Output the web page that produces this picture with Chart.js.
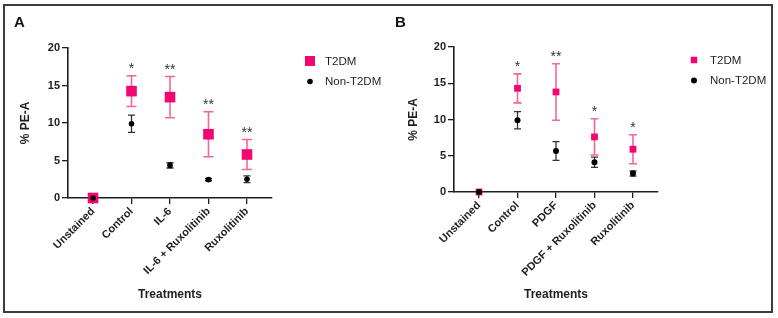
<!DOCTYPE html>
<html>
<head>
<meta charset="utf-8">
<script src="https://cdn.jsdelivr.net/npm/chart.js@4.4.1/dist/chart.umd.min.js"></script>
<style>
  html, body { margin: 0; padding: 0; background: #fff; }
  #wrap { position: relative; width: 778px; height: 318px; overflow: hidden; }
  #frame { position: absolute; left: 3px; top: 4px; width: 770px; height: 309px;
           box-sizing: border-box; border: 2px solid #3c3c3c; }
  canvas { position: absolute; top: 0; }
  #cA { left: 0; }
  #cB { left: 388px; }
  .tag { position: absolute; top: 13px; font: bold 15px 'Liberation Sans', Arial, sans-serif; color: #111; }
</style>
</head>
<body>
<div id="wrap">
  <div id="frame"></div>
  <canvas id="cA" width="388" height="318"></canvas>
  <canvas id="cB" width="390" height="318"></canvas>
  <div class="tag" style="left:14px">A</div>
  <div class="tag" style="left:395px">B</div>
</div>
<script>
// --- panel A data ---
const catsA = ['Unstained', 'Control', 'IL-6', 'IL-6 + Ruxolitinib', 'Ruxolitinib'];
const t2dmA = [0, 14.25, 13.45, 8.5, 5.8];
const t2dmErrA = [0, 2.05, 2.75, 3.0, 2.0];
const nonA = [0, 9.9, 4.35, 2.45, 2.5];
const nonErrA = [0, 1.15, 0.35, 0.15, 0.45];
const sigA = ['', '*', '**', '**', '**'];

// --- panel B data ---
const catsB = ['Unstained', 'Control', 'PDGF', 'PDGF + Ruxolitinib', 'Ruxolitinib'];
const t2dmB = [0, 14.3, 13.8, 7.6, 5.9];
const t2dmErrB = [0, 2.0, 3.9, 2.5, 2.0];
const nonB = [0, 9.9, 5.65, 4.1, 2.55];
const nonErrB = [0, 1.2, 1.3, 0.7, 0.35];
const sigB = ['', '*', '**', '*', '*'];

const yTicks = [0, 5, 10, 15, 20];
const seriesNames = ['T2DM', 'Non-T2DM'];

const PINK = '#f2066f';
const PINK_ERR = '#f4669c';
const INK = '#1e1e1e';
Chart.defaults.font.family = "'Liberation Sans', Arial, sans-serif";
Chart.defaults.color = INK;

// error bars drawn under the markers
const errorBars = {
  id: 'errorBars',
  beforeDatasetsDraw(chart) {
    const ctx = chart.ctx;
    const y = chart.scales.y;
    chart.data.datasets.forEach((ds, di) => {
      if (!ds.errorBars) return;
      const meta = chart.getDatasetMeta(di);
      ctx.save();
      ctx.strokeStyle = ds.errorColor;
      ctx.lineWidth = ds.errorWidth;
      meta.data.forEach((pt, i) => {
        const e = ds.errorBars[i];
        if (!e) return;
        const v = ds.data[i].y;
        const top = y.getPixelForValue(v + e);
        const bot = y.getPixelForValue(v - e);
        const hw = ds.errorCap / 2;
        ctx.beginPath();
        ctx.moveTo(pt.x, top); ctx.lineTo(pt.x, bot);
        ctx.moveTo(pt.x - hw, top); ctx.lineTo(pt.x + hw, top);
        ctx.moveTo(pt.x - hw, bot); ctx.lineTo(pt.x + hw, bot);
        ctx.stroke();
      });
      ctx.restore();
    });
  }
};

// significance stars above the T2DM bars
const sigStars = {
  id: 'sigStars',
  afterDatasetsDraw(chart, args, opts) {
    const ds = chart.data.datasets[opts.datasetIndex];
    const meta = chart.getDatasetMeta(opts.datasetIndex);
    const y = chart.scales.y;
    const ctx = chart.ctx;
    ctx.save();
    ctx.font = '14px ' + Chart.defaults.font.family;
    ctx.fillStyle = '#333';
    ctx.textAlign = 'center';
    ctx.textBaseline = 'alphabetic';
    meta.data.forEach((pt, i) => {
      const s = opts.labels[i];
      if (!s) return;
      const topVal = ds.data[i].y + ds.errorBars[i];
      ctx.fillText(s, pt.x, y.getPixelForValue(topVal) + opts.offset);
    });
    ctx.restore();
  }
};

// legend at the right side
const sideLegend = {
  id: 'sideLegend',
  afterDraw(chart, args, opts) {
    const ctx = chart.ctx;
    ctx.save();
    opts.order.forEach((di, k) => {
      const ds = chart.data.datasets[di];
      const cy = opts.y + k * opts.gap;
      ctx.fillStyle = ds.backgroundColor;
      if (ds.pointStyle === 'rect') {
        const s = opts.rect;
        ctx.fillRect(opts.x - s / 2, cy - s / 2, s, s);
      } else {
        ctx.beginPath();
        ctx.arc(opts.x, cy, opts.dot, 0, Math.PI * 2);
        ctx.fill();
      }
      ctx.fillStyle = INK;
      ctx.font = '11.5px ' + Chart.defaults.font.family;
      ctx.textAlign = 'left';
      ctx.textBaseline = 'middle';
      ctx.fillText(ds.label, opts.textX, cy + 0.5);
    });
    ctx.restore();
  }
};

function makePanel(id, cats, t2, t2Err, non, nonErr, sig, lay) {
  const axisCommon = {
    grid: { drawOnChartArea: false, drawTicks: true, tickLength: 6, color: INK, lineWidth: 1.3 },
    border: { display: true, color: INK, width: 1.6 },
  };
  return new Chart(document.getElementById(id), {
    type: 'scatter',
    data: {
      datasets: [
        {
          label: seriesNames[0],
          data: t2.map((v, i) => ({ x: i, y: v })),
          pointStyle: 'rect',
          pointRadius: lay.sq,
          pointHoverRadius: lay.sq,
          backgroundColor: PINK,
          borderColor: PINK,
          borderWidth: 0,
          errorBars: t2Err, errorColor: PINK_ERR, errorWidth: 1.6, errorCap: lay.capPink,
          order: 1,
          clip: false
        },
        {
          label: seriesNames[1],
          data: non.map((v, i) => ({ x: i, y: v })),
          pointStyle: 'circle',
          pointRadius: lay.dot,
          pointHoverRadius: lay.dot,
          backgroundColor: '#000',
          borderColor: '#000',
          borderWidth: 0,
          errorBars: nonErr, errorColor: '#333', errorWidth: 1.3, errorCap: lay.capBlack,
          order: 0,
          clip: false
        }
      ]
    },
    options: {
      responsive: false,
      animation: false,
      devicePixelRatio: 1,
      layout: { padding: { left: lay.padL, right: lay.padR, top: lay.top, bottom: 12 } },
      plugins: {
        legend: { display: false },
        tooltip: { enabled: false },
        sigStars: { labels: sig, datasetIndex: 0, offset: -3 },
        sideLegend: { order: [0, 1], x: lay.legX, y: lay.legY, gap: 20.5, textX: lay.legText,
                      rect: lay.legRect, dot: lay.legDot }
      },
      scales: {
        x: {
          type: 'linear',
          min: -0.65,
          max: 4.65,
          afterBuildTicks: s => { s.ticks = cats.map((c, i) => ({ value: i })); },
          afterFit: s => { s.height = lay.xh; },
          ticks: {
            autoSkip: false,
            minRotation: 45,
            maxRotation: 45,
            padding: 1,
            font: { size: 11, weight: 'bold' },
            callback: v => cats[Math.round(v)]
          },
          title: { display: true, text: 'Treatments', font: { size: 12, weight: 'bold' } },
          ...axisCommon
        },
        y: {
          min: 0,
          max: 20,
          afterBuildTicks: s => { s.ticks = yTicks.map(v => ({ value: v })); },
          afterFit: s => { s.width = lay.yw; },
          ticks: { padding: 2, font: { size: 11, weight: 'bold' } },
          title: { display: true, text: '% PE-A', font: { size: 12, weight: 'bold' } },
          ...axisCommon
        }
      }
    },
    plugins: [errorBars, sigStars, sideLegend]
  });
}

makePanel('cA', catsA, t2dmA, t2dmErrA, nonA, nonErrA, sigA, {
  padL: 14, yw: 54, padR: 116, top: 48, xh: 108,
  sq: 7.5, dot: 2.8, capPink: 10, capBlack: 7,
  legX: 310, legY: 61, legText: 325, legRect: 10, legDot: 2.8
});
makePanel('cB', catsB, t2dmB, t2dmErrB, nonB, nonErrB, sigB, {
  padL: 14, yw: 52, padR: 120, top: 47, xh: 114,
  sq: 4.8, dot: 3, capPink: 8, capBlack: 7,
  legX: 306, legY: 60, legText: 322, legRect: 6.5, legDot: 3
});
</script>
</body>
</html>
